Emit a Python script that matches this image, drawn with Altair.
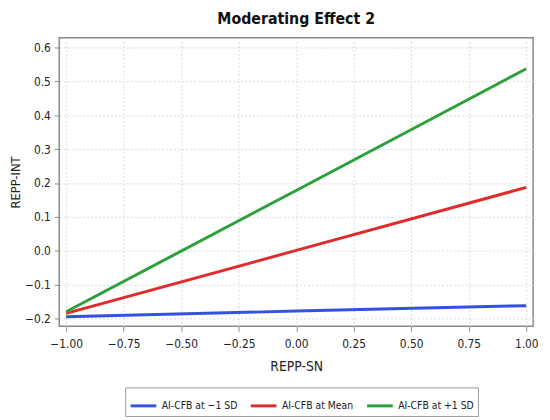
import altair as alt
import pandas as pd

x_vals = [-1.0, 0.0, 1.0]
low_sd = [-0.195, -0.178, -0.162]
mean_vals = [-0.185, 0.001, 0.187]
high_sd = [-0.180, 0.178, 0.537]
series_names = ["AI-CFB at \u22121 SD", "AI-CFB at Mean", "AI-CFB at +1 SD"]
colors = ["#3452e0", "#e02b2b", "#2ca03a"]

FONT = "DejaVu Sans Condensed, DejaVu Sans"

rows = []
for name, vals in zip(series_names, [low_sd, mean_vals, high_sd]):
    for xv, yv in zip(x_vals, vals):
        rows.append({"x": xv, "y": yv, "series": name})
df = pd.DataFrame(rows)

chart = alt.Chart(df).mark_line(strokeWidth=3, clip=True).encode(
    x=alt.X("x:Q", title="REPP-SN",
            scale=alt.Scale(domain=[-1.03, 1.03], nice=False, zero=False),
            axis=alt.Axis(values=[-1, -0.75, -0.5, -0.25, 0, 0.25, 0.5, 0.75, 1], format=".2f",
                          labelPadding=7, titlePadding=11)),
    y=alt.Y("y:Q", title="REPP-INT",
            scale=alt.Scale(domain=[-0.223, 0.629], nice=False, zero=False),
            axis=alt.Axis(values=[-0.2, -0.1, 0, 0.1, 0.2, 0.3, 0.4, 0.5, 0.6], format=".1f",
                          labelPadding=4, titlePadding=2, titleFontSize=13)),
    color=alt.Color("series:N", sort=series_names,
                    scale=alt.Scale(domain=series_names, range=colors),
                    legend=alt.Legend(title=None, orient="none", direction="horizontal",
                                      legendX=67, legendY=355, columns=3,
                                      symbolType="stroke", symbolStrokeWidth=3, symbolSize=676,
                                      strokeColor="#999999", padding=4,
                                      labelFontSize=10.5, labelFont=FONT, labelOffset=4,
                                      labelColor="#222222", columnPadding=7)),
).properties(
    width=481, height=293,
    title=alt.TitleParams("Moderating Effect 2", font=FONT, fontSize=16,
                          fontWeight="bold", color="#111111", offset=11),
    autosize=alt.AutoSizeParams(type="none"),
    padding={"left": 52, "top": 27, "right": 9, "bottom": 92},
).configure_view(
    stroke="#888888", strokeWidth=1.5
).configure_axis(
    domain=False, grid=True, gridColor="#d8d8d8", gridDash=[2, 2], gridWidth=1,
    tickColor="#888888", tickSize=5, labelFont=FONT, labelFontSize=12,
    labelColor="#222222", titleFont=FONT, titleFontSize=14,
    titleFontWeight="normal", titleColor="#222222"
)

chart.save("out.html", embed_options={"renderer": "svg", "actions": False})
